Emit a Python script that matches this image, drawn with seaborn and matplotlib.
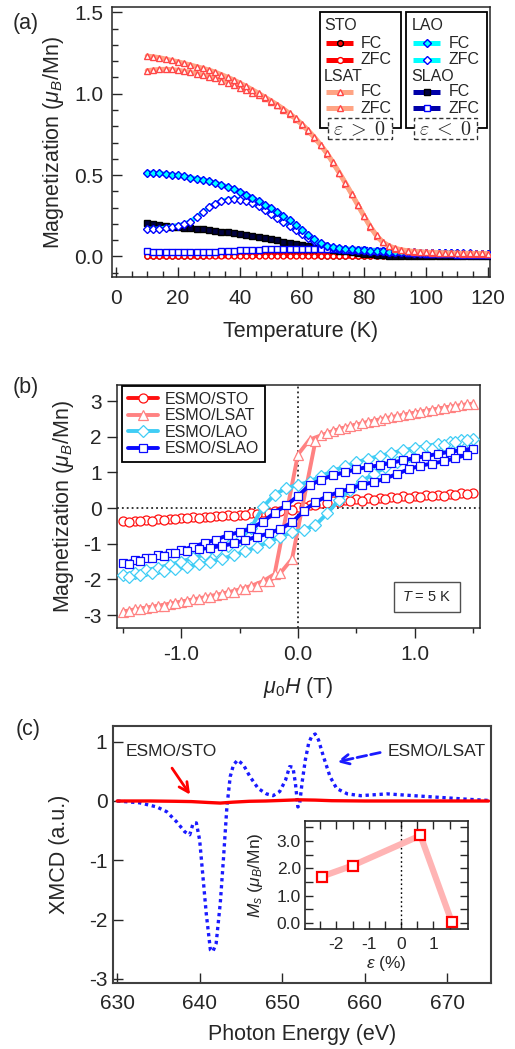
import numpy as np
import matplotlib
matplotlib.use("Agg")
import matplotlib.pyplot as plt
from matplotlib.lines import Line2D
from matplotlib.patches import Rectangle
from matplotlib.ticker import MultipleLocator, FixedLocator, FormatStrFormatter
import seaborn as sns

sns.set_style("ticks")
plt.rcParams.update({
    "font.family": ["Liberation Sans", "DejaVu Sans"],
    "mathtext.fontset": "custom",
    "mathtext.rm": "Liberation Sans",
    "mathtext.it": "Liberation Sans:italic",
    "mathtext.bf": "Liberation Sans:bold",
    "mathtext.sf": "Liberation Sans",
    "axes.unicode_minus": False,
    "font.size": 15,
    "axes.linewidth": 1.1,
})

# ---------------- (a) M(T), FC / ZFC ----------------
temperature = np.arange(10, 121, 2)  # K

sto_fc = [0.004, 0.004, 0.004, 0.005, 0.005, 0.005, 0.005, 0.006, 0.006, 0.006,
          0.007, 0.007, 0.008, 0.008, 0.009, 0.009, 0.010, 0.010, 0.010, 0.010,
          0.010, 0.010, 0.009, 0.009, 0.008, 0.008, 0.007, 0.007, 0.006, 0.006,
          0.005, 0.005, 0.005, 0.004, 0.004, 0.004, 0.004, 0.003, 0.003, 0.003,
          0.003, 0.003, 0.003, 0.003, 0.003, 0.003, 0.003, 0.003, 0.003, 0.003,
          0.003, 0.003, 0.003, 0.003, 0.003, 0.003]
sto_zfc = [0.001, 0.001, 0.001, 0.001, 0.001, 0.001, 0.001, 0.001, 0.001, 0.001,
           0.001, 0.002, 0.002, 0.003, 0.003, 0.004, 0.004, 0.005, 0.005, 0.005,
           0.005, 0.005, 0.005, 0.004, 0.004, 0.004, 0.003, 0.003, 0.003, 0.002,
           0.002, 0.001, 0.001, 0.001, 0.001, 0.001, 0.001, 0.001, 0.001, 0.001,
           0.001, 0.001, 0.001, 0.001, 0.001, 0.001, 0.001, 0.001, 0.001, 0.001,
           0.001, 0.001, 0.001, 0.001, 0.001, 0.001]
lsat_fc = [1.232, 1.228, 1.222, 1.214, 1.205, 1.197, 1.187, 1.177, 1.167, 1.157,
           1.146, 1.133, 1.118, 1.102, 1.085, 1.066, 1.046, 1.025, 1.003, 0.980,
           0.957, 0.933, 0.907, 0.879, 0.848, 0.813, 0.775, 0.733, 0.687, 0.636,
           0.578, 0.516, 0.452, 0.386, 0.318, 0.250, 0.185, 0.130, 0.090, 0.066,
           0.051, 0.042, 0.036, 0.032, 0.029, 0.027, 0.025, 0.024, 0.023, 0.022,
           0.021, 0.020, 0.020, 0.019, 0.019, 0.018]
lsat_zfc = [1.142, 1.147, 1.150, 1.151, 1.149, 1.145, 1.139, 1.132, 1.124, 1.115,
            1.105, 1.094, 1.081, 1.068, 1.053, 1.038, 1.022, 1.006, 0.990, 0.972,
            0.952, 0.930, 0.903, 0.875, 0.844, 0.809, 0.771, 0.729, 0.683, 0.632,
            0.574, 0.512, 0.448, 0.382, 0.314, 0.246, 0.181, 0.126, 0.087, 0.063,
            0.048, 0.040, 0.034, 0.030, 0.027, 0.025, 0.023, 0.022, 0.021, 0.020,
            0.019, 0.018, 0.018, 0.017, 0.017, 0.016]
lao_fc = [0.515, 0.513, 0.510, 0.507, 0.503, 0.498, 0.492, 0.485, 0.478, 0.470,
          0.462, 0.452, 0.441, 0.428, 0.413, 0.397, 0.380, 0.360, 0.340, 0.318,
          0.295, 0.272, 0.248, 0.222, 0.195, 0.165, 0.135, 0.105, 0.082, 0.066,
          0.057, 0.051, 0.047, 0.044, 0.041, 0.039, 0.036, 0.034, 0.032, 0.030,
          0.029, 0.027, 0.026, 0.025, 0.024, 0.023, 0.022, 0.021, 0.021, 0.020,
          0.020, 0.019, 0.019, 0.018, 0.018, 0.017]
lao_zfc = [0.170, 0.168, 0.170, 0.176, 0.183, 0.190, 0.200, 0.215, 0.243, 0.273,
           0.303, 0.325, 0.340, 0.350, 0.355, 0.350, 0.340, 0.326, 0.308, 0.286,
           0.262, 0.239, 0.215, 0.190, 0.165, 0.140, 0.116, 0.093, 0.075, 0.062,
           0.054, 0.049, 0.045, 0.042, 0.040, 0.037, 0.035, 0.033, 0.031, 0.029,
           0.028, 0.026, 0.025, 0.024, 0.023, 0.022, 0.021, 0.020, 0.020, 0.019,
           0.019, 0.018, 0.018, 0.017, 0.017, 0.016]
slao_fc = [0.205, 0.200, 0.195, 0.190, 0.184, 0.179, 0.176, 0.173, 0.170, 0.166,
           0.162, 0.158, 0.153, 0.148, 0.143, 0.138, 0.132, 0.126, 0.120, 0.113,
           0.106, 0.099, 0.092, 0.085, 0.078, 0.072, 0.066, 0.060, 0.054, 0.048,
           0.042, 0.036, 0.031, 0.026, 0.021, 0.017, 0.013, 0.010, 0.008, 0.006,
           0.005, 0.004, 0.004, 0.004, 0.003, 0.003, 0.003, 0.003, 0.003, 0.003,
           0.003, 0.003, 0.003, 0.003, 0.003, 0.003]
slao_zfc = [0.034, 0.030, 0.028, 0.027, 0.027, 0.027, 0.027, 0.027, 0.027, 0.028,
            0.029, 0.030, 0.032, 0.034, 0.036, 0.038, 0.040, 0.041, 0.042, 0.043,
            0.044, 0.044, 0.045, 0.045, 0.046, 0.046, 0.046, 0.046, 0.046, 0.045,
            0.044, 0.043, 0.042, 0.041, 0.039, 0.037, 0.035, 0.033, 0.031, 0.029,
            0.027, 0.025, 0.023, 0.021, 0.019, 0.018, 0.016, 0.015, 0.014, 0.013,
            0.012, 0.012, 0.011, 0.011, 0.010, 0.010]

# ---------------- (b) M(H) loops at 5 K ----------------
h_down = np.round(np.arange(1.5, -1.55, -0.1), 2)   # 1.5 -> -1.5 T
h_up = np.round(np.arange(-1.45, 1.5, 0.1), 2)      # -1.45 -> 1.45 T

sto_down = [0.42, 0.41, 0.40, 0.38, 0.37, 0.35, 0.33, 0.31, 0.29, 0.27,
            0.25, 0.22, 0.19, 0.15, 0.10, 0.04, -0.02, -0.08, -0.12, -0.15,
            -0.18, -0.20, -0.22, -0.24, -0.26, -0.28, -0.30, -0.31, -0.33, -0.35,
            -0.36]
sto_up = [-0.38, -0.36, -0.35, -0.33, -0.31, -0.29, -0.27, -0.25, -0.23, -0.21,
          -0.19, -0.16, -0.13, -0.09, -0.04, 0.03, 0.09, 0.13, 0.16, 0.19,
          0.21, 0.23, 0.25, 0.27, 0.29, 0.31, 0.33, 0.35, 0.37, 0.39]

lsat_h_down = [1.5, 1.4, 1.3, 1.2, 1.1, 1.0, 0.9, 0.8, 0.7, 0.6, 0.5, 0.4, 0.3, 0.2, 0.1,
               0.0, -0.2, -0.3, -0.4, -0.5, -0.6, -0.7, -0.8, -0.9, -1.0, -1.1, -1.2,
               -1.3, -1.4, -1.5]
lsat_down = [2.93, 2.88, 2.83, 2.78, 2.72, 2.66, 2.60, 2.54, 2.47, 2.40, 2.33, 2.25, 2.16,
             2.04, 1.92, 1.50, -1.85, -2.05, -2.18, -2.28, -2.36, -2.43, -2.50, -2.56,
             -2.62, -2.68, -2.74, -2.79, -2.84, -2.90]
lsat_h_up = [-1.45, -1.35, -1.25, -1.15, -1.05, -0.95, -0.85, -0.75, -0.65, -0.55, -0.45,
             -0.35, -0.25, -0.15, -0.05, 0.15, 0.25, 0.35, 0.45, 0.55, 0.65, 0.75, 0.85,
             0.95, 1.05, 1.15, 1.25, 1.35, 1.45]
lsat_up = [-2.88, -2.83, -2.78, -2.73, -2.67, -2.61, -2.55, -2.49, -2.42, -2.35, -2.27,
           -2.17, -2.05, -1.82, -1.42, 1.88, 2.10, 2.21, 2.30, 2.38, 2.45, 2.52, 2.58,
           2.64, 2.70, 2.75, 2.81, 2.86, 2.91]

lao_down = [1.95, 1.90, 1.85, 1.80, 1.74, 1.68, 1.62, 1.54, 1.46, 1.38,
            1.28, 1.17, 1.04, 0.90, 0.74, 0.65, 0.56, 0.38, 0.03, -0.55,
            -0.88, -1.06, -1.19, -1.30, -1.40, -1.50, -1.59, -1.67, -1.74, -1.81,
            -1.88]
lao_up = [-1.93, -1.88, -1.83, -1.77, -1.71, -1.65, -1.58, -1.50, -1.42, -1.32,
          -1.21, -1.08, -0.95, -0.80, -0.68, -0.60, -0.48, -0.15, 0.22, 0.52,
          0.76, 0.96, 1.14, 1.30, 1.45, 1.57, 1.67, 1.76, 1.84, 1.91]

slao_down = [1.67, 1.62, 1.58, 1.52, 1.46, 1.40, 1.34, 1.27, 1.20, 1.15,
             1.09, 1.00, 0.92, 0.80, 0.64, 0.34, 0.08, -0.13, -0.38, -0.57,
             -0.67, -0.76, -0.88, -0.98, -1.08, -1.18, -1.25, -1.32, -1.39, -1.46,
             -1.55]
slao_up = [-1.56, -1.49, -1.41, -1.33, -1.25, -1.20, -1.15, -1.11, -1.06, -0.99,
           -0.90, -0.80, -0.71, -0.58, -0.40, -0.08, 0.17, 0.33, 0.45, 0.55,
           0.65, 0.73, 0.83, 0.96, 1.09, 1.19, 1.25, 1.31, 1.40, 1.50]

# ---------------- (c) XMCD spectra and saturation moment ----------------
energy_lsat = [630, 632.7, 634.8, 636.0, 637.2, 638.2, 638.8, 639.2, 639.6, 640.0,
               640.4, 640.8, 641.3, 641.6, 642.0, 642.5, 642.9, 643.3, 643.7, 644.1,
               644.6, 645.3, 646.1, 647.1, 648.1, 648.9, 649.7, 650.4, 650.9, 651.3,
               651.6, 651.9, 652.1, 652.4, 652.8, 653.2, 653.6, 654.0, 654.4, 655.0,
               655.8, 656.6, 657.9, 659.5, 662.7, 665.9, 669.2, 672.4, 674.9]
xmcd_lsat = [0.0, -0.03, -0.10, -0.18, -0.35, -0.52, -0.57, -0.38, -0.37, -0.66,
             -1.28, -1.90, -2.51, -2.54, -2.40, -1.72, -0.94, -0.10, 0.41, 0.61,
             0.69, 0.61, 0.41, 0.21, 0.12, 0.09, 0.16, 0.35, 0.58, 0.57,
             0.30, -0.10, -0.07, 0.30, 0.69, 0.97, 1.10, 1.13, 1.03, 0.75,
             0.41, 0.21, 0.12, 0.09, 0.12, 0.09, 0.06, 0.03, 0.01]
energy_sto = [630, 634, 637, 639, 641, 642.5, 644, 646, 648, 650, 652, 654, 656, 660, 665, 670, 675]
xmcd_sto = [0.0, 0.0, -0.005, -0.01, -0.025, -0.035, -0.02, -0.005, 0.0, 0.01, 0.02,
            0.015, 0.005, 0.0, 0.0, 0.0, 0.0]

strain = [-2.45, -1.5, 0.6, 1.57]      # %
ms_sat = [1.7, 2.1, 3.2, 0.03]         # mu_B / Mn

# ======================================================================
fig = plt.figure(figsize=(5.15, 10.49), dpi=100)
W, H = 515.0, 1049.0


def box(l, t, r, b):
    return [l / W, 1 - b / H, (r - l) / W, (b - t) / H]


def curve(ax, x, y, line, lw, marker, ms, face, edge, mew=1.0, z=2, **kw):
    sns.lineplot(x=x, y=y, ax=ax, sort=False, estimator=None, color=line, lw=lw,
                 marker=marker, markersize=ms, markerfacecolor=face,
                 markeredgecolor=edge, markeredgewidth=mew, legend=False, zorder=z, **kw)
    return ax.lines[-1]


# ---------------- panel (a) ----------------
axa = fig.add_axes(box(112, 7, 490, 277))
C_STO, C_LSAT, C_LSAT_M = "#ff0000", "#ffa484", "#ff4646"
C_LAO, C_SLAO = "#00ffff", "#0000a8"

curve(axa, temperature, sto_fc, C_STO, 3.4, "o", 3.6, C_STO, "black", z=2)
curve(axa, temperature, sto_zfc, C_STO, 3.4, "o", 3.6, "white", C_STO, z=2)
curve(axa, temperature, slao_fc, C_SLAO, 3.4, "s", 4.2, "#000040", "black", z=3)
curve(axa, temperature, slao_zfc, C_SLAO, 3.4, "s", 4.0, "white", "#0000ff", z=3)
curve(axa, temperature, lao_zfc, C_LAO, 3.4, "D", 3.8, "white", "#0000ff", z=4)
curve(axa, temperature, lao_fc, C_LAO, 3.4, "D", 3.8, C_LAO, "#0000ff", z=4)
curve(axa, temperature, lsat_zfc, C_LSAT, 3.4, "^", 4.7, "white", C_LSAT_M, z=5)
curve(axa, temperature, lsat_fc, C_LSAT, 3.4, "^", 4.7, "white", C_LSAT_M, z=5)

axa.set_xlim(-1.3, 120.6)
axa.set_ylim(-0.126, 1.533)
axa.xaxis.set_major_locator(MultipleLocator(20))
axa.xaxis.set_minor_locator(MultipleLocator(5))
axa.yaxis.set_major_locator(MultipleLocator(0.5))
axa.yaxis.set_minor_locator(MultipleLocator(0.1))
axa.yaxis.set_major_formatter(FormatStrFormatter("%.1f"))
axa.tick_params(which="both", direction="in", labelsize=15, width=1.0)
axa.tick_params(which="major", length=7.5)
axa.tick_params(which="minor", length=4)
axa.tick_params(axis="x", pad=9)
axa.tick_params(axis="y", pad=6)
axa.set_xlabel("Temperature (K)", fontsize=15.5, labelpad=9)
axa.set_ylabel(r"Magnetization ($\mu_B$/Mn)", fontsize=15.5, labelpad=6)


def legend_group(ax, x0, x1, hx, tx, header1, rows1, header2, rows2, tag):
    T = ax.transAxes
    ax.add_patch(Rectangle((x0, 0.552), x1 - x0, 0.983 - 0.552, transform=T,
                           facecolor="white", edgecolor="black", lw=1.3, zorder=8))
    ys = [0.930, 0.866, 0.804, 0.744, 0.686, 0.625]
    ax.text(hx, ys[0], header1, transform=T, fontsize=11.5, va="center", ha="left", zorder=9)
    ax.text(hx, ys[3], header2, transform=T, fontsize=11.5, va="center", ha="left", zorder=9)
    for y, (lab, line, mk, ms, face, edge) in zip([ys[1], ys[2], ys[4], ys[5]], rows1 + rows2):
        ax.add_line(Line2D([hx + 0.005, hx + 0.077], [y, y], transform=T, color=line, lw=3.6,
                           solid_capstyle="butt", zorder=9))
        ax.add_line(Line2D([hx + 0.041], [y], transform=T, ls="none", marker=mk, ms=ms,
                           mfc=face, mec=edge, mew=1.0, zorder=10))
        ax.text(tx, y, lab, transform=T, fontsize=11.5, va="center", ha="left", zorder=9)
    bx0, bx1 = x0 + 0.022, x1 - 0.025
    ax.add_patch(Rectangle((bx0, 0.510), bx1 - bx0, 0.078, transform=T, facecolor="white",
                           edgecolor="#333333", lw=1.0, ls=(0, (3, 2)), zorder=11, clip_on=False))
    ax.text((bx0 + bx1) / 2, 0.546, tag, transform=T, fontsize=14.5, ha="center",
            va="center", math_fontfamily="cm", zorder=12)


legend_group(axa, 0.550, 0.765, 0.561, 0.658,
             "STO", [("FC", C_STO, "o", 4.2, C_STO, "black"), ("ZFC", C_STO, "o", 4.2, "white", C_STO)],
             "LSAT", [("FC", C_LSAT, "^", 5.0, "white", C_LSAT_M), ("ZFC", C_LSAT, "^", 5.0, "white", C_LSAT_M)],
             r"$\varepsilon\;>\;0$")
legend_group(axa, 0.778, 0.991, 0.792, 0.890,
             "LAO", [("FC", C_LAO, "D", 4.0, C_LAO, "#0000ff"), ("ZFC", C_LAO, "D", 4.0, "white", "#0000ff")],
             "SLAO", [("FC", C_SLAO, "s", 4.2, "#000040", "black"), ("ZFC", C_SLAO, "s", 4.2, "white", "#0000ff")],
             r"$\varepsilon\;<\;0$")

# ---------------- panel (b) ----------------
axb = fig.add_axes(box(117, 385, 480, 628))
axb.axhline(0, color="black", lw=1.1, ls=(0, (1.2, 2)), zorder=1)
axb.axvline(0, color="black", lw=1.1, ls=(0, (1.2, 2)), zorder=1)

B_STO, B_LSAT, B_LAO, B_SLAO = "#ff1010", "#ff8282", "#40cdf5", "#0a0aff"
handles = []
handles.append(curve(axb, np.r_[h_down, h_up], sto_down + sto_up, B_STO, 2.8, "o", 6.5,
                     "white", B_STO, mew=0.9, z=2))
handles.append(curve(axb, lsat_h_down + lsat_h_up, lsat_down + lsat_up, B_LSAT, 2.8, "^", 7.0,
                     "white", B_LSAT, mew=0.9, z=3))
handles.append(curve(axb, np.r_[h_down, h_up], lao_down + lao_up, B_LAO, 2.8, "D", 6.2,
                     "white", B_LAO, mew=0.9, z=4))
handles.append(curve(axb, np.r_[h_down, h_up], slao_down + slao_up, B_SLAO, 2.8, "s", 6.2,
                     "white", B_SLAO, mew=0.9, z=5))

axb.set_xlim(-1.55, 1.56)
axb.set_ylim(-3.36, 3.45)
axb.xaxis.set_major_locator(FixedLocator([-1.0, 0.0, 1.0]))
axb.xaxis.set_minor_locator(FixedLocator([-1.5, -0.5, 0.5, 1.5]))
axb.xaxis.set_major_formatter(FormatStrFormatter("%.1f"))
axb.yaxis.set_major_locator(MultipleLocator(1))
axb.tick_params(which="both", direction="out", labelsize=15, width=1.0)
axb.tick_params(which="major", length=7)
axb.tick_params(which="minor", length=3.5)
axb.tick_params(axis="x", pad=5)
axb.tick_params(axis="y", pad=4)
axb.set_xlabel(r"$\mu_0H$ (T)", fontsize=15.5, labelpad=8)
axb.set_ylabel(r"Magnetization ($\mu_B$/Mn)", fontsize=15.5, labelpad=5)

leg = axb.legend(handles, ["ESMO/STO", "ESMO/LSAT", "ESMO/LAO", "ESMO/SLAO"],
                 loc="upper left", bbox_to_anchor=(0.014, 0.996), borderaxespad=0,
                 frameon=True, fancybox=False, edgecolor="black", framealpha=1,
                 fontsize=11.5, handlelength=1.9, handletextpad=0.45, labelspacing=0.1,
                 borderpad=0.35)
leg.get_frame().set_linewidth(1.3)
axb.text(0.854, 0.128, r"$T$ = 5 K", transform=axb.transAxes, ha="center", va="center",
         fontsize=10.5, bbox=dict(boxstyle="square,pad=0.55", fc="white", ec="#505050", lw=1.0))

# ---------------- panel (c) ----------------
axc = fig.add_axes(box(113, 726, 491, 983))
sns.lineplot(x=energy_lsat, y=xmcd_lsat, ax=axc, sort=False, estimator=None,
             color="#1a1aff", lw=2.4, linestyle=(0, (1, 1.1)), legend=False)
sns.lineplot(x=energy_sto, y=xmcd_sto, ax=axc, sort=False, estimator=None,
             color="#ff0000", lw=2.4, legend=False)
axc.set_xlim(629.5, 675.3)
axc.set_ylim(-3.07, 1.265)
axc.xaxis.set_major_locator(MultipleLocator(10))
axc.yaxis.set_major_locator(MultipleLocator(1))
axc.tick_params(which="both", direction="in", labelsize=15, width=1.0, length=7)
axc.tick_params(axis="x", pad=8)
axc.tick_params(axis="y", pad=4)
for s in axc.spines.values():
    s.set_color("#404040")
    s.set_linewidth(1.5)
axc.set_xlabel("Photon Energy (eV)", fontsize=15.5, labelpad=8)
axc.set_ylabel("XMCD (a.u.)", fontsize=15.5, labelpad=14)

axc.text(0.034, 0.899, "ESMO/STO", transform=axc.transAxes, fontsize=12.5, ha="left", va="center")
axc.text(0.7275, 0.899, "ESMO/LSAT", transform=axc.transAxes, fontsize=12.5, ha="left", va="center")
axc.annotate("", xy=(0.208, 0.724), xytext=(0.152, 0.845), xycoords="axes fraction",
             arrowprops=dict(arrowstyle="->", color="#ff0000", lw=2.0, mutation_scale=17))
axc.annotate("", xy=(0.585, 0.858), xytext=(0.714, 0.899), xycoords="axes fraction",
             arrowprops=dict(arrowstyle="->", color="#1a1aff", lw=2.0, ls=(0, (3.5, 1.5)),
                             mutation_scale=17))

# inset: saturation moment vs strain
axi = fig.add_axes(box(305, 821, 468, 929))
axi.axvline(0, color="black", lw=1.0, ls=(0, (1.2, 2)), zorder=1)
sns.lineplot(x=strain, y=ms_sat, ax=axi, sort=False, estimator=None, color="#ffb4b4", lw=4.5,
             marker="s", markersize=6.5, markerfacecolor="white", markeredgecolor="#ff0000",
             markeredgewidth=1.6, legend=False, zorder=3)
axi.set_xlim(-2.97, 2.07)
axi.set_ylim(-0.22, 3.73)
axi.xaxis.set_major_locator(FixedLocator([-2, -1, 0, 1]))
axi.xaxis.set_minor_locator(FixedLocator([-2.5, -1.5, -0.5, 0.5, 1.5]))
axi.yaxis.set_major_locator(MultipleLocator(1))
axi.yaxis.set_minor_locator(MultipleLocator(0.5))
axi.yaxis.set_major_formatter(FormatStrFormatter("%.1f"))
axi.tick_params(which="both", direction="in", top=True, right=True, labelsize=12.5, width=1.0)
axi.tick_params(which="major", length=5.5)
axi.tick_params(which="minor", length=5.5)
axi.tick_params(axis="x", pad=6)
axi.tick_params(axis="y", pad=3)
for s in axi.spines.values():
    s.set_linewidth(1.2)
axi.set_xlabel(r"$\varepsilon$ (%)", fontsize=12.5, labelpad=1)
axi.set_ylabel(r"$M_s$ ($\mu_B$/Mn)", fontsize=12.5, labelpad=8)

# panel tags
fig.text(13 / W, 1 - 23 / H, "(a)", fontsize=15.5, ha="left", va="center")
fig.text(13 / W, 1 - 387 / H, "(b)", fontsize=15.5, ha="left", va="center")
fig.text(16 / W, 1 - 729 / H, "(c)", fontsize=15.5, ha="left", va="center")

fig.savefig("out.png", dpi=100)
